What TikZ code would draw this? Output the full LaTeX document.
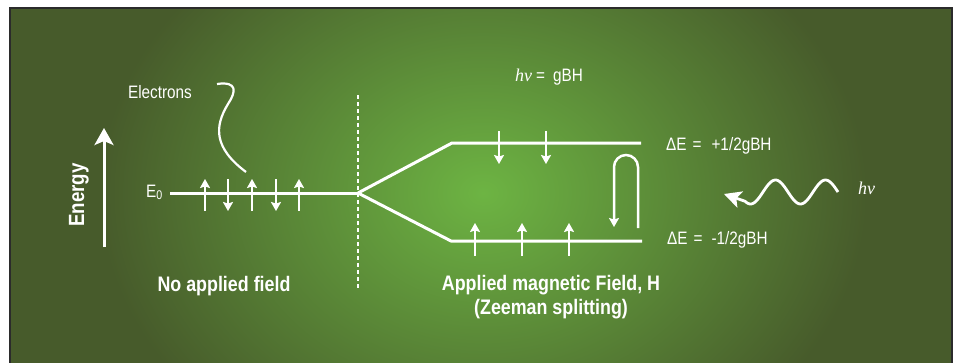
\documentclass[tikz,border=0pt]{standalone}
\usepackage{fontspec}
\setmainfont{Liberation Sans}[FakeStretch=0.85]
\newfontfamily\zeeserif{Liberation Serif}
\usepackage{xcolor}
\definecolor{zeeglowc}{HTML}{6DB443}
\definecolor{zeeedge}{HTML}{475B2B}
\definecolor{zeeframe}{HTML}{2B2B2B}
\usepackage{tikz}
\usetikzlibrary{arrows.meta,positioning,calc}
\pgfdeclareradialshading{zeeglow}{\pgfpoint{0bp}{0bp}}{color(0bp)=(zeeglowc); color(16bp)=(zeeedge); color(50bp)=(zeeedge)}
\tikzset{
  zeelevel/.style={white,line width=3pt,line join=round},
  zeespin/.style={white,line width=2.5pt,-{Stealth[length=9pt,width=10pt,inset=1.5pt]}},
  zeeaxis/.style={white,line width=3pt,-{Stealth[length=17pt,width=19pt,inset=4pt]}},
  zeewave/.style={white,line width=2.8pt,-{Stealth[length=17pt,width=17pt,inset=4pt]}},
  zeecurve/.style={white,line width=2.2pt},
  zeedivider/.style={white,line width=2pt,dash pattern=on 4pt off 3pt},
  zeelabel/.style={text=white,inner sep=0pt,font=\fontsize{18}{20}\selectfont},
  zeebold/.style={text=white,inner sep=0pt,align=center,font=\bfseries\fontsize{21}{23.5}\selectfont},
}

\begin{document}
\begin{tikzpicture}[x=1pt,y=-1pt]
\useasboundingbox (0,0) rectangle (958,362);
% backdrop
\begin{scope}
\clip (10,8) rectangle (952,370);
\shade[shading=zeeglow] (483,193) ellipse (600 and 480);
\end{scope}
\draw[zeeframe,line width=2.5pt] (10,8) rectangle (952,370);

% energy axis
\coordinate (ebot) at (104,247);
\coordinate (etop) at (104,128);
\draw[zeeaxis] (ebot) -- (etop);
\node[zeebold,rotate=90,font=\bfseries\fontsize{22}{24}\selectfont] (energy) at (79,195) {Energy};

% no applied field
\coordinate (e0start) at (170,193);
\coordinate (split) at (358,193);
\draw[zeelevel] (e0start) -- (split);
\node[zeelabel,anchor=base east] (e0) at (163,197) {E\textsubscript{0}};
\foreach \x in {205,252,299} \draw[zeespin] (\x,211) -- (\x,179);
\foreach \x in {228,276} \draw[zeespin] (\x,179) -- (\x,211);
\node[zeelabel] (elec) at (160,92) {Electrons};
\coordinate (elecA) at (217,84);
\coordinate (elecB) at (246,172);
\draw[zeecurve] (elecA) .. controls (238,81) and (236,92) .. (228,104) .. controls (214,127) and (214,148) .. (elecB);
\node[zeebold,anchor=base] (nofield) at (224,291.5) {No applied field};

% divider
\coordinate (divtop) at (358,95);
\coordinate (divbot) at (358,290);
\draw[zeedivider] (divtop) -- (divbot);

% zeeman splitting
\coordinate (upk) at (452,143);
\coordinate (upend) at (641,143);
\coordinate (lok) at (451,241);
\coordinate (loend) at (642,241);
\draw[zeelevel] (split) -- (upk) -- (upend);
\draw[zeelevel] (split) -- (lok) -- (loend);
\foreach \x in {499,546} \draw[zeespin] (\x,131) -- (\x,164);
\foreach \x in {475,522,569} \draw[zeespin] (\x,256) -- (\x,223);
\draw[zeespin,rounded corners=12pt] (638,228) -- (638,155) -- (614,155) -- (614,227);
\node[zeelabel,anchor=base west] (res) at (515,81.5) {{\zeeserif\itshape hν}\hspace{4pt}=\hspace{8pt}gBH};
\node[zeelabel,anchor=base west] (dplus) at (666,150) {ΔE\hspace{6pt}=\hspace{10pt}+1/2gBH};
\node[zeelabel,anchor=base west] (dminus) at (667,244) {ΔE\hspace{6pt}=\hspace{9pt}-1/2gBH};
\node[zeebold] (applied) at (551,297) {Applied magnetic Field, H\\(Zeeman splitting)};

% photon
\coordinate (wavetip) at (724,194);
\draw[zeewave] plot[domain=838:745,samples=60] (\x,{192-12*sin((838-\x)*7.2)}) -- (wavetip);
\node[zeelabel,anchor=base west] (hv) at (858,194) {\zeeserif\itshape hν};
\end{tikzpicture}
\end{document}
